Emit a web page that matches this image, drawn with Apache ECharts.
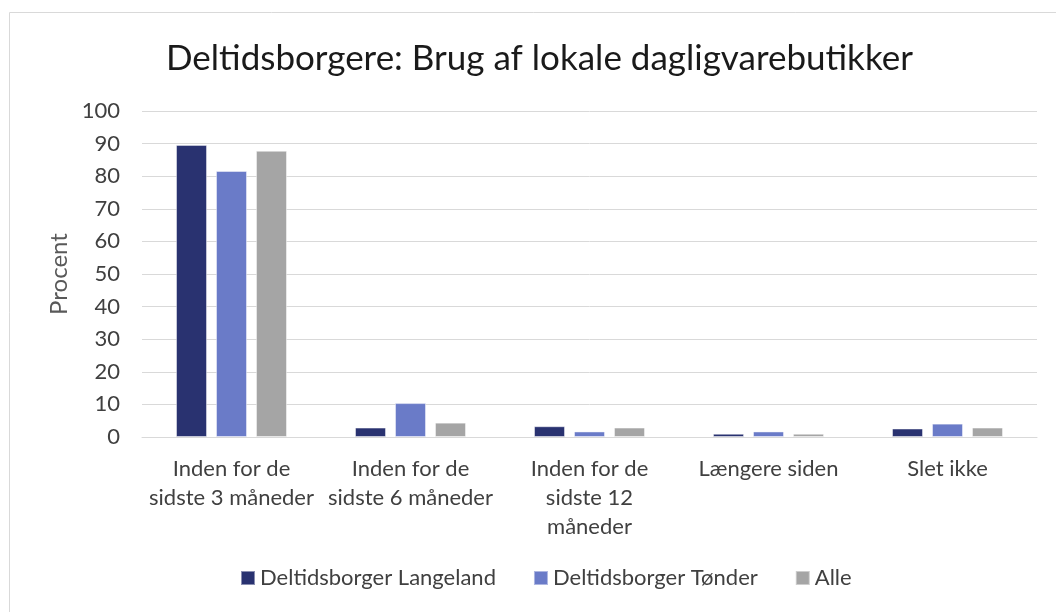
<!DOCTYPE html>
<html>
<head>
<meta charset="utf-8">
<script src="https://cdn.jsdelivr.net/npm/echarts@6/dist/echarts.min.js"></script>
<style>
    html, body { margin: 0; padding: 0; background: #fff; overflow: hidden; }
    #chart { width: 1056px; height: 612px; }
</style>
</head>
<body>
<div id="chart"></div>
<script>
// 类目（x轴）
let categories = ["Inden for de\nsidste 3 måneder", "Inden for de\nsidste 6 måneder", "Inden for de\nsidste 12\nmåneder", "Længere siden", "Slet ikke"];
// 各系列数值（百分比）
let langeland = [89.6, 2.9, 3.3, 1.0, 2.6];
let tonder = [81.6, 10.4, 1.7, 1.7, 4.1];
let alle = [87.8, 4.4, 2.9, 1.0, 2.9];
let seriesNames = ["Deltidsborger Langeland", "Deltidsborger Tønder", "Alle"];
let yTicks = [0, 10, 20, 30, 40, 50, 60, 70, 80, 90, 100];

let font = "Lato, 'Noto Sans', sans-serif";
let colors = ["#293270", "#6a7bc8", "#a5a5a5"];

let barSeries = (name, data, color) => {
    return {
        name: name,
        type: 'bar',
        data: data,
        barWidth: 31,
        barGap: '29%',
        itemStyle: { color: color, borderColor: 'rgba(255,255,255,0.45)', borderWidth: 1 }
    };
};

let chart = echarts.init(document.getElementById("chart"), null, { renderer: 'canvas' });
chart.setOption({
    animation: false,
    color: colors,
    title: {
        text: "Deltidsborgere: Brug af lokale dagligvarebutikker",
        left: 161,
        top: 36,
        textStyle: { fontFamily: font, fontSize: 35, fontWeight: 'normal', color: '#1a1a1a' }
    },
    graphic: [{
        type: 'rect',
        shape: { x: 9.5, y: 12.5, width: 1200, height: 800 },
        style: { fill: null, stroke: '#d9d9d9', lineWidth: 1 },
        silent: true
    }],
    legend: {
        data: seriesNames,
        bottom: 18,
        left: 235,
        icon: 'rect',
        itemWidth: 14,
        itemHeight: 14,
        itemGap: 37,
        textStyle: { fontFamily: font, fontSize: 22, color: '#404040' }
    },
    grid: { left: 142, right: 19, top: 111, bottom: 175 },
    xAxis: {
        type: 'category',
        data: categories,
        axisLine: { lineStyle: { color: '#d9d9d9', width: 1 } },
        axisTick: { show: false },
        axisLabel: { fontFamily: font, fontSize: 22, color: '#404040', lineHeight: 29, margin: 17, interval: 0 }
    },
    yAxis: {
        type: 'value',
        min: yTicks[0],
        max: yTicks[yTicks.length - 1],
        interval: 10,
        name: "Procent",
        nameLocation: 'middle',
        nameGap: 66,
        nameTextStyle: { fontFamily: font, fontSize: 24, color: '#595959' },
        axisLine: { show: false },
        axisTick: { show: false },
        axisLabel: { fontFamily: font, fontSize: 22, color: '#404040', margin: 22 },
        splitLine: { lineStyle: { color: '#d9d9d9', width: 1 } }
    },
    series: [
        barSeries(seriesNames[0], langeland, colors[0]),
        barSeries(seriesNames[1], tonder, colors[1]),
        barSeries(seriesNames[2], alle, colors[2])
    ]
});
</script>
</body>
</html>
